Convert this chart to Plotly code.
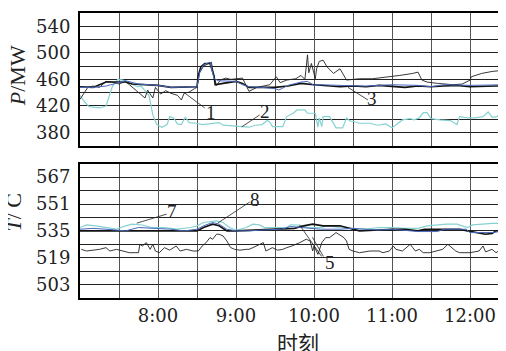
import plotly.graph_objects as go
from plotly.subplots import make_subplots

# ---------------- data ----------------
# Top panel (P / MW)
P1_T = ["7:00","7:03","7:06","7:10","7:15","7:20","7:25","7:30","7:35","7:38","7:42","7:46","7:50","7:52",
        "7:56","7:58","8:02","8:06","8:10","8:15","8:18","8:20","8:24","8:28","8:30","8:32","8:35","8:38",
        "8:41","8:43","8:45","8:48","8:52","8:56","9:00","9:05","9:10","9:16","9:26","9:31","9:34","9:39",
        "9:46","9:50","9:53","9:55","9:56","9:58","10:01","10:02","10:04","10:07","10:10","10:15","10:20",
        "10:25","10:30","10:35","10:45","10:50","10:58","11:06","11:16","11:20","11:23","11:27","11:35",
        "11:47","11:54","11:57","12:00","12:01","12:04","12:09","12:17","12:27"]
P1_V = [430,440,448,450,448,457,456,453,457,452,445,439,432,444,
        432,448,438,443,439,436,429,439,441,446,448,470,480,483,
        486,465,451,459,462,460,461,462,442,448,452,464,455,459,
        461,466,460,497,470,484,461,476,487,489,479,469,476,
        459,460,461,461,462,464,466,469,471,459,456,454,
        452,453,456,459,464,466,469,472,474]

P2_T = ["7:00","7:04","7:07","7:15","7:20","7:23","7:25","7:29","7:33","7:38","7:44","7:47","7:51","7:53",
        "7:56","7:59","8:03","8:07","8:09","8:12","8:15","8:18","8:21","8:24","8:29","8:34","8:39","8:47",
        "8:50","9:00","9:10","9:15","9:20","9:24","9:26","9:28","9:36","9:39","9:44","9:47","9:53","9:55",
        "10:01","10:03","10:04","10:06","10:07","10:12","10:15","10:17","10:22","10:25","10:28","10:30",
        "10:35","10:43","10:49","10:55","11:00","11:04","11:08","11:14","11:17","11:21","11:24","11:27",
        "11:30","11:37","11:45","11:50","11:52","11:58","12:04","12:10","12:14","12:17","12:21","12:24","12:27"]
P2_V = [436,425,419,417,420,438,450,460,459,455,449,450,441,436,
        407,392,388,392,404,402,393,392,403,395,394,392,393,395,
        391,389,388,391,392,398,396,389,389,404,409,414,414,409,
        409,388,402,389,404,404,395,387,387,402,397,397,
        394,394,391,393,387,393,399,401,399,402,410,410,
        401,399,398,392,404,402,402,404,411,403,404,410,405]

P3_T = ["7:00","7:10","7:20","7:35","7:40","8:00","8:10","8:25","8:30","8:31","8:33","8:36","8:40","8:43",
        "8:44","8:50","9:00","9:05","9:10","9:20","9:30","9:40","9:50","10:00","10:10","10:20","10:30",
        "10:40","10:50","11:00","11:10","11:20","11:30","11:40","11:50","12:00","12:10","12:20","12:27"]
P3_V = [449,448,456,456,453,451,448,448,449,466,479,484,484,466,
        452,454,457,454,448,448,448,450,454,452,451,449,450,
        449,451,450,448,450,449,450,451,449,450,450,450]

P4_T = ["7:00","7:10","7:20","7:25","7:35","7:45","8:00","8:10","8:20","8:30","8:32","8:35","8:40","8:43",
        "8:46","8:55","9:00","9:05","9:10","9:20","9:30","9:33","9:40","9:50","9:55","10:00","10:05",
        "10:20","10:40","11:00","11:20","11:30","11:40","12:00","12:27"]
P4_V = [448,448,450,453,458,453,451,448,449,449,470,482,486,462,
        458,457,457,452,449,448,446,444,451,456,457,451,452,
        451,450,452,451,449,452,451,452]

# Bottom panel (T / C)
T5_T = ["7:01","7:05","7:10","7:15","7:20","7:23","7:28","7:33","7:36","7:38","7:43","7:45","7:46","7:48",
        "7:51","7:54","7:56","7:58","8:01","8:05","8:09","8:14","8:17","8:22","8:27","8:31","8:34","8:37",
        "8:40","8:42","8:45","8:47","8:50","8:53","8:55","8:56","8:59","9:03","9:08","9:10","9:13","9:18",
        "9:21","9:23","9:26","9:28","9:32","9:36","9:39","9:43","9:49","9:54","9:57","9:59","10:00","10:02",
        "10:03","10:06","10:09","10:12","10:17","10:19","10:23","10:25","10:27","10:30","10:35","10:43",
        "10:50","10:53","10:58","11:01","11:03","11:08","11:14","11:16","11:18","11:21","11:24","11:29",
        "11:34","11:39","11:43","11:46","11:49","11:52","12:00","12:07","12:10","12:12","12:17","12:20",
        "12:22","12:27"]
T5_V = [524,523,523.5,524,525,523,524,523,522.5,522,522,522,527,526,
        528,524,527,523,522,525,523.5,526,523,524,523,523,526,528,
        531,530,533,533,532,529,526,525,524,523.5,524,524,525,527,
        528,523,524,525,523.5,524,525,526,528,530,529,523,526,522,
        521,528,531,531,534,533,531,529,524,523,522,523,
        523,522,523,526,524,523,527,525,523,524,522,522,
        523,524,527,525,523,522,522,523,526,522.5,524,522,
        523,522]

T7_T = ["7:00","7:05","7:12","7:20","7:28","7:35","7:40","7:48","7:55","8:05","8:15","8:25","8:30","8:35",
        "8:45","8:50","8:55","9:00","9:08","9:13","9:18","9:22","9:35","9:39","9:42","9:49","9:55","10:05",
        "10:10","10:20","10:30","10:40","10:50","11:00","11:10","11:20","11:27","11:35","11:42","11:50",
        "11:55","11:58","12:02","12:07","12:17","12:27"]
T7_V = [537,538.6,538,537,536,538,539,538.5,537,537,536,537,538,540,
        541,540,537,535.4,537,539,538.6,537,537,537,538.6,538.5,537,537,
        538,537,536.5,536,537,537,536.5,536.5,538,538.6,539,539,
        538,537,538.6,539,539.5,539.5]

T8_T = ["7:00","7:10","7:20","7:35","7:45","7:55","8:10","8:20","8:30","8:35","8:42","8:47","8:53","9:00",
        "9:10","9:20","9:35","9:42","9:48","10:05","10:20","10:30","10:40","10:50","11:00","11:10","11:20",
        "11:35","11:40","11:57","12:00","12:10","12:17","12:27"]
T8_V = [536,536.5,536,535,537,536.5,536,535,536,538,540,539,536,535,
        535,535.5,536,537.6,537.3,536,536,536.5,536,535.5,536,535.5,534.6,
        534.6,536,536,534,534,534,535]

T6_T = ["7:00","7:20","7:40","8:10","8:30","8:35","8:42","8:47","8:53","9:00","9:20","9:35","9:45","9:52",
        "9:59","10:07","10:20","10:25","10:35","10:50","11:00","11:10","11:20","11:25","11:40","11:52",
        "11:58","12:07","12:12","12:17","12:20","12:27"]
T6_V = [535,535,535,535,535,537,539,538,535,535,535.5,536,536.5,538,
        539,538,538,537,535,535.5,536,536,535,536,536,536,
        535,534,533,533.5,535,535]

X_TICK_HOURS = [8, 9, 10, 11, 12]
X_TICK_TEXT = ["8:00", "9:00", "10:00", "11:00", "12:00"]
P_TICKS = [380, 420, 460, 500, 540]
T_TICKS = [503, 519, 535, 551, 567]


def hrs(lst):
    out = []
    for s in lst:
        h, m = s.split(":")
        out.append(int(h) + int(m) / 60.0)
    return out


BLACK = "#111111"
BLUE = "#4868bb"
CYAN = "#86d2d2"
SERIF = "DejaVu Serif"
TITLE = "Liberation Serif"

fig = make_subplots(rows=2, cols=1, shared_xaxes=False, vertical_spacing=0.0)

# top panel traces
fig.add_trace(go.Scatter(x=hrs(P2_T), y=P2_V, mode="lines", line=dict(color=CYAN, width=1.2)), 1, 1)
fig.add_trace(go.Scatter(x=hrs(P1_T), y=P1_V, mode="lines", line=dict(color="#222", width=0.9)), 1, 1)
fig.add_trace(go.Scatter(x=hrs(P3_T), y=P3_V, mode="lines", line=dict(color=BLACK, width=1.6)), 1, 1)
fig.add_trace(go.Scatter(x=hrs(P4_T), y=P4_V, mode="lines", line=dict(color=BLUE, width=1.0)), 1, 1)
# bottom panel traces
fig.add_trace(go.Scatter(x=hrs(T7_T), y=T7_V, mode="lines", line=dict(color=CYAN, width=1.2)), 2, 1)
fig.add_trace(go.Scatter(x=hrs(T6_T), y=T6_V, mode="lines", line=dict(color=BLACK, width=1.6)), 2, 1)
fig.add_trace(go.Scatter(x=hrs(T8_T), y=T8_V, mode="lines", line=dict(color=BLUE, width=1.0)), 2, 1)
fig.add_trace(go.Scatter(x=hrs(T5_T), y=T5_V, mode="lines", line=dict(color="#222", width=0.9)), 2, 1)

XR = [7.0, 12.4615]
common_x = dict(range=XR, tickmode="array", tickvals=X_TICK_HOURS, ticktext=X_TICK_TEXT,
                showgrid=True, gridcolor="#555", gridwidth=1, zeroline=False,
                showline=True, linecolor="black", linewidth=2, mirror=True, ticks="",
                minor=dict(tick0=7, dtick=0.5, showgrid=True, gridcolor="#555", gridwidth=1),
                tickfont=dict(family=SERIF, size=18, color="#222"), automargin=False)
fig.update_xaxes(**common_x)
fig.update_xaxes(showticklabels=False, row=1, col=1)
fig.update_xaxes(ticklabelstandoff=0, row=2, col=1)

common_y = dict(showgrid=True, gridcolor="#222", gridwidth=1, zeroline=False,
                showline=True, linecolor="black", linewidth=2, mirror=False, ticks="",
                ticklabelstandoff=4, tickfont=dict(family=SERIF, size=18, color="#222"),
                automargin=False)
fig.update_yaxes(**common_y)
fig.update_yaxes(range=[360, 560], tickmode="array", tickvals=P_TICKS,
                 minor=dict(tick0=360, dtick=20, showgrid=True, gridcolor="#222", gridwidth=1),
                 domain=[0.534, 1.0], row=1, col=1)
fig.update_yaxes(range=[495, 575], tickmode="array", tickvals=T_TICKS,
                 minor=dict(tick0=495, dtick=8, showgrid=True, gridcolor="#222", gridwidth=1),
                 domain=[0.0, 0.471], row=2, col=1)

# leader lines (data coords)
leaders = [
    ("x", "y", 8.599, 417, 8.342, 439.5),
    ("x", "y", 9.304, 406.5, 9.073, 388.5),
    ("x", "y", 10.692, 429, 10.436, 448),
    ("x2", "y2", 8.112, 545, 7.727, 539.6),
    ("x2", "y2", 9.176, 552.2, 8.765, 539.6),
    ("x2", "y2", 10.097, 519.8, 9.817, 538.4),
    ("x2", "y2", 10.12, 519.8, 9.98, 531.2),
]
for xr, yr, x0, y0, x1, y1 in leaders:
    fig.add_shape(type="line", xref=xr, yref=yr, x0=x0, y0=y0, x1=x1, y1=y1,
                  line=dict(color="#222", width=0.8))

labels = [("x", "y", 8.676, 409.5, "1"), ("x", "y", 9.368, 411, "2"), ("x", "y", 10.74, 432, "3"),
          ("x2", "y2", 8.178, 546.8, "7"), ("x2", "y2", 9.24, 554, "8"), ("x2", "y2", 10.2, 516.2, "5")]
for xr, yr, x, y, t in labels:
    fig.add_annotation(xref=xr, yref=yr, x=x, y=y, text=t, showarrow=False,
                       font=dict(family=TITLE, size=19, color="#222"))

fig.add_annotation(xref="paper", yref="paper", x=-0.1467, y=0.78, text="<i>P</i>/MW", textangle=-90,
                   showarrow=False, xanchor="center", yanchor="middle",
                   font=dict(family=TITLE, size=22, color="#222"))
fig.add_annotation(xref="paper", yref="paper", x=-0.155, y=0.303, text="<i>T</i>/ C", textangle=-90,
                   showarrow=False, xanchor="center", yanchor="middle",
                   font=dict(family=TITLE, size=22, color="#222"))
fig.add_annotation(xref="paper", yref="paper", x=0.512, y=-0.153, text="时刻",
                   showarrow=False, xanchor="center", yanchor="middle",
                   font=dict(family="Noto Sans CJK SC", size=21, color="#222"))

# page body has an 8px margin, so the figure is 8px smaller than the window
fig.update_layout(width=498, height=343, margin=dict(l=72, r=0, t=5, b=53),
                  paper_bgcolor="white", plot_bgcolor="white", showlegend=False)

fig.write_html("out.html")
